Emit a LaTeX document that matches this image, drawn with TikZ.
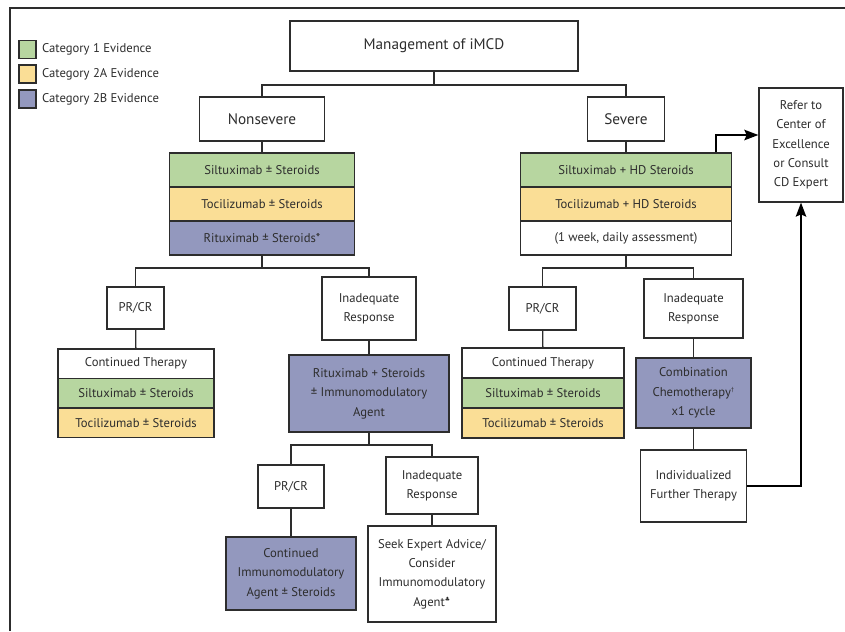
\documentclass[tikz,border=0pt]{standalone}
\usepackage{fontspec}
\setmainfont{PT Sans}
\newfontfamily\symfont{DejaVu Sans}
\usepackage{tikz}
\usetikzlibrary{arrows.meta, positioning}
\definecolor{catone}{RGB}{183,214,160}
\definecolor{cattwoa}{RGB}{250,222,150}
\definecolor{cattwob}{RGB}{147,152,190}
\definecolor{ink}{RGB}{45,45,45}

\begin{document}
\begin{tikzpicture}[
  x=0.03cm, y=-0.03cm, >={Stealth[length=12pt,width=9pt,inset=2pt]},
  font=\fontsize{10.8}{16.5}\selectfont, text=ink,
  bx/.style={rectangle, draw=ink, line width=1.1pt, align=center, inner sep=0pt, fill=white},
  sz/.style 2 args={minimum width=#1*0.03cm, minimum height=#2*0.03cm},
  c1/.style={bx, fill=catone},
  c2a/.style={bx, fill=cattwoa},
  c2b/.style={bx, fill=cattwob},
  ln/.style={draw=ink, line width=1.1pt},
  arr/.style={->, draw=black, line width=1.2pt}]
  \useasboundingbox (0,0) rectangle (845,631);
  \draw[ink, line width=1.4pt] (10,631) -- (10,8) -- (845,8);
  % legend
  \node[c1, sz={17}{18}]  (lg1) at (27.5,49.5) {};
  \node[c2a, sz={17}{18}] (lg2) at (27.5,74) {};
  \node[c2b, sz={17}{18}] (lg3) at (27.5,99) {};
  \node[anchor=west] (lt1) at (38,49.5) {Category 1 Evidence};
  \node[anchor=west] (lt2) at (38,74) {Category 2A Evidence};
  \node[anchor=west] (lt3) at (38,99) {Category 2B Evidence};
  % top levels
  \node[bx, sz={288}{50}, font=\fontsize{13}{16}\selectfont] (mgmt) at (434,46) {Management of iMCD};
  \node[bx, sz={125}{44}, font=\fontsize{13}{16}\selectfont] (nsev) at (262,119) {Nonsevere};
  \node[bx, sz={77}{44}, font=\fontsize{13}{16}\selectfont]  (sev)  at (626,119) {Severe};
  % nonsevere stack
  \node[c1, sz={185}{34}]  (ns1) at (262,170) {Siltuximab ± Steroids};
  \node[c2a, sz={185}{34}] (ns2) at (262,204) {Tocilizumab ± Steroids};
  \node[c2b, sz={185}{34}] (ns3) at (262,238) {Rituximab ± Steroids*};
  % severe stack
  \node[c1, sz={211}{34}]  (ss1) at (626,170) {Siltuximab + HD Steroids};
  \node[c2a, sz={211}{34}] (ss2) at (626,204) {Tocilizumab + HD Steroids};
  \node[bx, sz={211}{34}]  (ss3) at (626,238) {(1 week, daily assessment)};
  % nonsevere branches
  \node[bx, sz={57}{42}]  (lpr)  at (135.5,308) {PR/CR};
  \node[bx, sz={94}{63}]  (linad) at (369,308.5) {Inadequate\\Response};
  \node[bx, sz={156}{29.5}]  (lct1) at (136,363.75) {Continued Therapy};
  \node[c1, sz={156}{29.5}]  (lct2) at (136,393.25) {Siltuximab ± Steroids};
  \node[c2a, sz={156}{29.5}] (lct3) at (136,422.75) {Tocilizumab ± Steroids};
  \node[c2b, sz={160}{77}] (lrit) at (369,393.5) {Rituximab + Steroids\\± Immunomodulatory\\Agent};
  % rituximab branches
  \node[bx, sz={66}{43}]  (bpr)  at (291,486.5) {PR/CR};
  \node[bx, sz={92}{57}]  (binad) at (432,485.5) {Inadequate\\Response};
  \node[c2b, sz={130}{73}] (bcont) at (291,573.5) {Continued\\Immunomodulatory\\Agent ± Steroids};
  \node[bx, sz={128}{96}] (bseek) at (432,574) {Seek Expert Advice/\\Consider\\Immunomodulatory\\Agent\textsuperscript{\symfont\tiny ♣}};
  % severe branches
  \node[bx, sz={67}{43}]  (rpr)  at (542.5,308.5) {PR/CR};
  \node[bx, sz={99}{59}]  (rinad) at (693.5,308.5) {Inadequate\\Response};
  \node[bx, sz={162}{30}]  (rct1) at (543,363) {Continued Therapy};
  \node[c1, sz={162}{30}]  (rct2) at (543,393) {Siltuximab ± Steroids};
  \node[c2a, sz={162}{30}] (rct3) at (543,423) {Tocilizumab ± Steroids};
  \node[c2b, sz={115}{70}] (rchemo) at (693.5,393) {Combination\\Chemotherapy\textsuperscript{\tiny †}\\x1 cycle};
  \node[bx, sz={106}{72}] (rindiv) at (693.5,486) {Individualized\\Further Therapy};
  \node[bx, sz={84}{114}] (refer) at (801,145) {Refer to\\Center of\\Excellence\\or Consult\\CD Expert};
  % tree connectors
  \coordinate (b1) at (434,85);
  \coordinate (b2) at (262,268);
  \coordinate (b3) at (626,268);
  \coordinate (b4) at (369,445);
  \draw[ln] (mgmt) -- (b1);
  \draw[ln] (nsev) |- (b1) -| (sev);
  \draw[ln] (nsev) -- (ns1); \draw[ln] (sev) -- (ss1);
  \draw[ln] (ns3) -- (b2); \draw[ln] (lpr) |- (b2) -| (linad);
  \draw[ln] (ss3) -- (b3); \draw[ln] (rpr) |- (b3) -| (rinad);
  \draw[ln] (lpr) -- (lct1); \draw[ln] (linad) -- (lrit);
  \draw[ln] (lrit) -- (b4); \draw[ln] (bpr) |- (b4) -| (binad);
  \draw[ln] (bpr) -- (bcont); \draw[ln] (binad) -- (bseek);
  \draw[ln] (rpr) -- (rct1); \draw[ln] (rinad) -- (rchemo); \draw[ln] (rchemo) -- (rindiv);
  % referral arrows
  \draw[arr] ([xshift=-16*0.03cm]ss1.north east) |- ([yshift=10*0.03cm]refer.west);
  \draw[arr] (rindiv) -| (refer);
\end{tikzpicture}
\end{document}
